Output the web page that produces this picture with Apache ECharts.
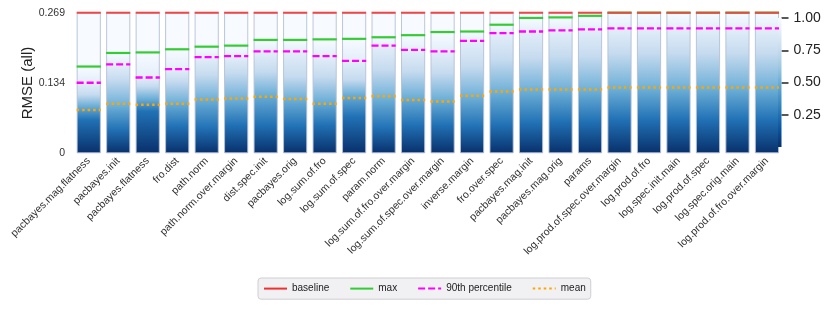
<!DOCTYPE html>
<html>
<head>
<meta charset="utf-8">
<script src="https://cdn.jsdelivr.net/npm/echarts@6/dist/echarts.min.js"></script>
<style>
html,body{margin:0;padding:0;background:#fff;}
#chart{width:830px;height:311px;}
</style>
</head>
<body>
<div id="chart"></div>
<script>
// ---------- data ----------
var categories = ['pacbayes.mag.flatness','pacbayes.init','pacbayes.flatness','fro.dist','path.norm','path.norm.over.margin','dist.spec.init','pacbayes.orig','log.sum.of.fro','log.sum.of.spec','param.norm','log.sum.of.fro.over.margin','log.sum.of.spec.over.margin','inverse.margin','fro.over.spec','pacbayes.mag.init','pacbayes.mag.orig','params','log.prod.of.spec.over.margin','log.prod.of.fro','log.spec.init.main','log.prod.of.spec','log.spec.orig.main','log.prod.of.fro.over.margin'];
var baseline = [0.269,0.269,0.269,0.269,0.269,0.269,0.269,0.269,0.269,0.269,0.269,0.269,0.269,0.269,0.269,0.269,0.269,0.269,0.269,0.269,0.269,0.269,0.269,0.269];
var maxVals  = [0.166,0.192,0.193,0.199,0.204,0.206,0.217,0.217,0.218,0.219,0.222,0.226,0.232,0.233,0.246,0.259,0.260,0.263,0.269,0.269,0.269,0.269,0.269,0.269];
var p90Vals  = [0.135,0.170,0.145,0.161,0.184,0.186,0.195,0.195,0.186,0.177,0.206,0.198,0.195,0.215,0.230,0.233,0.235,0.237,0.239,0.239,0.239,0.239,0.239,0.239];
var meanVals = [0.083,0.095,0.093,0.095,0.103,0.105,0.108,0.104,0.095,0.106,0.109,0.102,0.099,0.110,0.118,0.122,0.122,0.122,0.126,0.126,0.126,0.126,0.126,0.126];
var q25Vals  = [0.064,0.045,0.080,0.051,0.048,0.054,0.054,0.051,0.054,0.070,0.048,0.054,0.054,0.051,0.054,0.058,0.061,0.061,0.064,0.064,0.064,0.064,0.064,0.064];
var q50Vals  = [0.090,0.090,0.104,0.096,0.102,0.102,0.112,0.102,0.099,0.112,0.102,0.106,0.102,0.106,0.115,0.118,0.118,0.118,0.122,0.122,0.122,0.122,0.122,0.122];
var q75Vals  = [0.112,0.141,0.128,0.138,0.150,0.154,0.157,0.147,0.147,0.141,0.160,0.157,0.154,0.166,0.179,0.183,0.186,0.186,0.192,0.192,0.192,0.192,0.192,0.192];
var yTickLabels = ['0','0.134','0.269'];
var cbTickLabels = ['0.25','0.50','0.75','1.00'];
var legendNames = ['baseline','max','90th percentile','mean'];

// ---------- colormap (Blues reversed: 0 dark -> 1 white) ----------
var bluesStops = ['#08306b','#08519c','#2171b5','#4292c6','#6baed6','#9ecae1','#c6dbef','#deebf7','#f7fbff'];
function hex2rgb(h){return [parseInt(h.substr(1,2),16),parseInt(h.substr(3,2),16),parseInt(h.substr(5,2),16)];}
function blues(c){
  c=Math.max(0,Math.min(1,c));
  var p=c*(bluesStops.length-1), i=Math.min(Math.floor(p),bluesStops.length-2), t=p-i;
  var a=hex2rgb(bluesStops[i]), b=hex2rgb(bluesStops[i+1]);
  return 'rgb('+Math.round(a[0]+(b[0]-a[0])*t)+','+Math.round(a[1]+(b[1]-a[1])*t)+','+Math.round(a[2]+(b[2]-a[2])*t)+')';
}

var barData = categories.map(function(c,i){
  var top = baseline[i];
  var levels = [[0,0],[q25Vals[i],0.25],[q50Vals[i],0.5],[q75Vals[i],0.75],[p90Vals[i],0.9],[maxVals[i],1.0]];
  var stops = [{offset:0,color:blues(1)}];
  for (var k=levels.length-1;k>=0;k--){
    stops.push({offset:Math.max(0,Math.min(1,1-levels[k][0]/top)),color:blues(levels[k][1])});
  }
  return {value: top, itemStyle:{color:new echarts.graphic.LinearGradient(0,0,0,1,stops)}};
});

function hline(vals, color, width, dash, zz){
  return {
    type:'custom', name:'_'+color, xAxisIndex:0, yAxisIndex:0, silent:true, z:zz,
    data: categories.map(function(c,i){return [i, vals[i]];}),
    renderItem: function(params, api){
      var p = api.coord([api.value(0), api.value(1)]);
      var half = api.size([1,0])[0]*0.41;
      return {type:'line', z2:zz, shape:{x1:p[0]-half,y1:p[1],x2:p[0]+half,y2:p[1]},
        style:{stroke:color,lineWidth:width,lineDash:dash,lineCap:'butt',fill:null,opacity:1}};
    }
  };
}

var FONT = 'Liberation Sans, Arial, sans-serif';
var chart = echarts.init(document.getElementById('chart'));
chart.setOption({
  animation:false,
  textStyle:{fontFamily:FONT},
  grid:[
    {left:74, right:48.3, top:12.7, bottom:157.7},
    {left:778, right:48.5, top:18, bottom:164}
  ],
  xAxis:[
    {type:'category', gridIndex:0, data:categories,
     axisLine:{show:false}, axisTick:{show:false},
     axisLabel:{interval:0, rotate:45, fontSize:10.5, color:'#333', margin:6, fontFamily:FONT}},
    {type:'category', gridIndex:1, data:['cb'], show:false}
  ],
  yAxis:[
    {type:'value', gridIndex:0, min:0, max:0.269, interval:0.1345,
     name:'RMSE (all)', nameLocation:'middle', nameGap:39, nameRotate:90, nameMoveOverlap:false,
     nameTextStyle:{fontSize:15, color:'#222', fontFamily:FONT},
     axisLine:{show:false}, axisTick:{show:false}, splitLine:{show:false},
     axisLabel:{fontSize:10.5, color:'#333', margin:9, fontFamily:FONT,
       formatter:function(v,idx){return yTickLabels[idx];}}},
    {type:'value', gridIndex:1, min:0, max:1, interval:0.25, position:'right',
     axisLine:{show:false}, splitLine:{show:false},
     axisTick:{show:true, length:7, lineStyle:{color:'#222', width:1.5}},
     axisLabel:{showMinLabel:false, fontSize:14, color:'#222', margin:12, fontFamily:FONT,
       formatter:function(v,idx){return cbTickLabels[idx-1];}}}
  ],
  legend:{
    left:258, top:278, padding:[5,5,5,5], itemWidth:23, itemHeight:14, itemGap:20,
    backgroundColor:'#f1f1f3', borderColor:'#cfcfd4', borderWidth:1, borderRadius:3,
    textStyle:{fontSize:10, color:'#222', fontFamily:FONT},
    itemStyle:{opacity:0},
    data:legendNames.map(function(n){return {name:n, itemStyle:{opacity:0}};})
  },
  series:[
    {type:'bar', xAxisIndex:0, yAxisIndex:0, data:barData, barCategoryGap:'18%', z:1,
     itemStyle:{borderColor:'rgba(180,192,216,0.9)', borderWidth:1}, silent:true},
    {type:'bar', xAxisIndex:1, yAxisIndex:1, barWidth:'100%', silent:true, z:1,
     data:[{value:1, itemStyle:{color:new echarts.graphic.LinearGradient(0,0,0,1,
       bluesStops.slice().reverse().map(function(c,k){return {offset:k/(bluesStops.length-1), color:c};}))}}]},
    hline(meanVals,'#ffa500',2.5,[2.5,3],5),
    hline(p90Vals,'#ff00ff',2.3,[7,3],6),
    hline(maxVals,'#33cc33',2.2,null,7),
    hline(baseline,'#f04646',2,null,8),
    {type:'line', name:legendNames[0], data:[], symbol:'none', lineStyle:{color:'#f03030',width:2}, itemStyle:{color:'#f03030'}},
    {type:'line', name:legendNames[1], data:[], symbol:'none', lineStyle:{color:'#33cc33',width:2}, itemStyle:{color:'#33cc33'}},
    {type:'line', name:legendNames[2], data:[], symbol:'none', lineStyle:{color:'#ff00ff',width:2,type:[7,3]}, itemStyle:{color:'#ff00ff'}},
    {type:'line', name:legendNames[3], data:[], symbol:'none', lineStyle:{color:'#ffa500',width:2.5,type:[2.5,3]}, itemStyle:{color:'#ffa500'}}
  ]
});
</script>
</body>
</html>
